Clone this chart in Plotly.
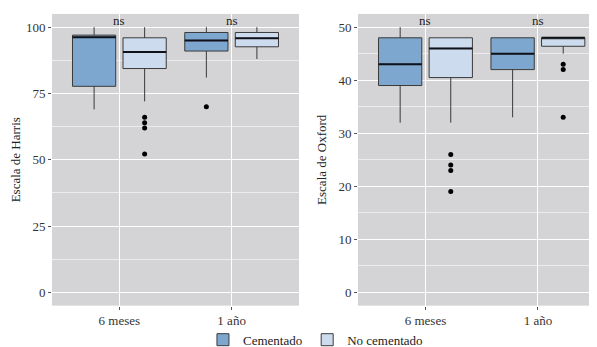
import plotly.graph_objects as go

# ---- data ----
periods = ["6 meses", "1 año"]
groups = ["Cementado", "No cementado"]

# Harris scale (left panel): per group, per period
harris_low = {"Cementado": [69, 81], "No cementado": [72, 88]}
harris_q1 = {"Cementado": [77.7, 91], "No cementado": [84.4, 92.6]}
harris_med = {"Cementado": [96.2, 95], "No cementado": [90.6, 95.8]}
harris_q3 = {"Cementado": [97, 98], "No cementado": [96, 98]}
harris_high = {"Cementado": [100, 100], "No cementado": [100, 100]}
harris_out = {"Cementado": [[], [70]], "No cementado": [[66, 64, 62, 52.2], []]}

# Oxford scale (right panel)
oxford_low = {"Cementado": [32, 33], "No cementado": [32, 45]}
oxford_q1 = {"Cementado": [39, 42], "No cementado": [40.5, 46.4]}
oxford_med = {"Cementado": [43, 45], "No cementado": [46, 48]}
oxford_q3 = {"Cementado": [48, 48], "No cementado": [48, 48]}
oxford_high = {"Cementado": [50, 48], "No cementado": [48, 48]}
oxford_out = {"Cementado": [[], []], "No cementado": [[26, 24, 23, 19], [43, 42, 33]]}

sig_labels = ["ns", "ns"]

# ---- style ----
fills = {"Cementado": "#7DA7CF", "No cementado": "#CCDCEE"}
offsets = {"Cementado": -0.225, "No cementado": 0.225}
BOX_W = 0.385
FONT = "'Liberation Serif', 'Times New Roman', 'DejaVu Serif', serif"
PANEL = "#D4D4D6"

fig = go.Figure()


def add_panel(xa, ya, low, q1, med, q3, high, outs, legend):
    pos = [1, 2]
    for g in groups:
        xs = [p + offsets[g] for p in pos]
        fig.add_trace(go.Box(
            x=xs, q1=q1[g], median=med[g], q3=q3[g],
            lowerfence=low[g], upperfence=high[g],
            width=BOX_W, whiskerwidth=0,
            fillcolor=fills[g], line=dict(color="#3a3a3a", width=1),
            name=g, legendgroup=g, showlegend=legend,
            xaxis=xa, yaxis=ya, hoverinfo="skip",
        ))
        # thicker median segments
        mx, my = [], []
        for x, m in zip(xs, med[g]):
            mx += [x - BOX_W / 2, x + BOX_W / 2, None]
            my += [m, m, None]
        fig.add_trace(go.Scatter(
            x=mx, y=my, mode="lines", line=dict(color="#101018", width=2),
            showlegend=False, xaxis=xa, yaxis=ya, hoverinfo="skip",
        ))
        ox, oy = [], []
        for x, vals in zip(xs, outs[g]):
            ox += [x] * len(vals)
            oy += vals
        if ox:
            fig.add_trace(go.Scatter(
                x=ox, y=oy, mode="markers",
                marker=dict(color="black", size=5),
                showlegend=False, xaxis=xa, yaxis=ya, hoverinfo="skip",
            ))


add_panel("x", "y", harris_low, harris_q1, harris_med, harris_q3, harris_high, harris_out, True)
add_panel("x2", "y2", oxford_low, oxford_q1, oxford_med, oxford_q3, oxford_high, oxford_out, False)

for i, lab in enumerate(sig_labels):
    fig.add_annotation(x=i + 1, y=102.6, xref="x", yref="y", text=lab, showarrow=False,
                       font=dict(family=FONT, size=13, color="#222"))
    fig.add_annotation(x=i + 1, y=51.3, xref="x2", yref="y2", text=lab, showarrow=False,
                       font=dict(family=FONT, size=13, color="#222"))

axis_common = dict(
    showgrid=True, gridcolor="white", gridwidth=1.2,
    zeroline=False, showline=False,
    ticks="outside", ticklen=3, tickcolor="#555", tickwidth=1,
    tickfont=dict(family=FONT, size=13, color="#333"),
)
minor = dict(showgrid=True, gridcolor="#ECECEE", gridwidth=0.6)

fig.update_layout(
    width=597, height=347,
    margin=dict(l=0, r=0, t=0, b=0),
    paper_bgcolor="white", plot_bgcolor=PANEL,
    font=dict(family=FONT, size=13, color="#222"),
    xaxis=dict(domain=[44 / 597, 291 / 597], range=[0.4, 2.6], tickvals=[1, 2], ticktext=periods,
               anchor="y", **axis_common),
    yaxis=dict(domain=[1 - 302 / 347, 1 - 6 / 347], range=[-5, 105], tickvals=[0, 25, 50, 75, 100],
               anchor="x", minor=dict(tickvals=[12.5, 37.5, 62.5, 87.5], **minor),
               title=dict(text="Escala de Harris", font=dict(family=FONT, size=13), standoff=8),
               **axis_common),
    xaxis2=dict(domain=[350 / 597, 594 / 597], range=[0.4, 2.57], tickvals=[1, 2], ticktext=periods,
                anchor="y2", **axis_common),
    yaxis2=dict(domain=[1 - 302 / 347, 1 - 6 / 347], range=[-2.5, 52.5], tickvals=[0, 10, 20, 30, 40, 50],
                anchor="x2", minor=dict(tickvals=[5, 15, 25, 35, 45], **minor),
                title=dict(text="Escala de Oxford", font=dict(family=FONT, size=13), standoff=8),
                **axis_common),
    legend=dict(orientation="h", x=0.515, xanchor="center", y=0.03, yanchor="middle",
                font=dict(family=FONT, size=13, color="#222"), bgcolor="rgba(0,0,0,0)",
                itemwidth=30, traceorder="normal"),
    showlegend=True,
)

fig.write_html("out.html")
